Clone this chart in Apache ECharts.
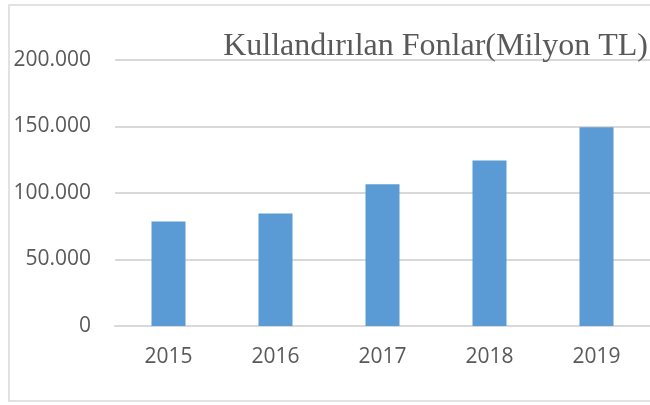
<!DOCTYPE html>
<html>
<head>
<meta charset="utf-8">
<script src="https://cdn.jsdelivr.net/npm/echarts@6/dist/echarts.min.js"></script>
<style>
  html, body { margin: 0; padding: 0; background: #fff; }
  #chart { width: 650px; height: 405px; }
</style>
</head>
<body>
<div id="chart"></div>
<script>
const years = ['2015', '2016', '2017', '2018', '2019']
const usedFunds = [78500, 84500, 106500, 124400, 149500]
const yTicks = [0, 50000, 100000, 150000, 200000]

const titleText = 'Kullandırılan Fonlar(Milyon TL)'

// 50000 -> "50.000"
const fmt = (v) => {
  if (v === 0) return '0'
  const s = String(v)
  return s.replace(/\B(?=(\d{3})+(?!\d))/g, '.')
}

const chart = echarts.init(document.getElementById('chart'), null, { renderer: 'canvas' })

chart.setOption({
  animation: false,
  backgroundColor: '#fff',
  title: {
    text: titleText,
    right: 2,
    top: 31,
    padding: 0,
    textStyle: {
      fontFamily: 'Liberation Serif',
      fontSize: 32,
      fontWeight: 'normal',
      color: '#595959',
    },
  },
  graphic: [
    {
      type: 'rect',
      shape: { x: 9, y: 5, width: 700, height: 396 },
      style: { fill: 'none', stroke: '#d9d9d9', lineWidth: 1.5 },
      silent: true,
      z: -1,
    },
  ],
  grid: {
    left: 115,
    top: 60,
    width: 543,
    height: 266,
    containLabel: false,
  },
  xAxis: {
    type: 'category',
    data: years,
    axisTick: { show: false },
    axisLine: { show: true, lineStyle: { color: '#d9d9d9', width: 2 } },
    axisLabel: {
      margin: 21,
      fontFamily: 'Open Sans',
      fontSize: 21,
      color: '#595959',
    },
  },
  yAxis: {
    type: 'value',
    min: yTicks[0],
    max: yTicks[yTicks.length - 1],
    interval: yTicks[1] - yTicks[0],
    axisLine: { show: false },
    axisTick: { show: false },
    splitLine: { lineStyle: { color: '#d9d9d9', width: 2 } },
    axisLabel: {
      margin: 24,
      fontFamily: 'Open Sans',
      fontSize: 21,
      color: '#595959',
      formatter: fmt,
    },
  },
  series: [
    {
      type: 'bar',
      data: usedFunds,
      barWidth: 34,
      itemStyle: { color: '#5b9bd5' },
    },
  ],
})
</script>
</body>
</html>
